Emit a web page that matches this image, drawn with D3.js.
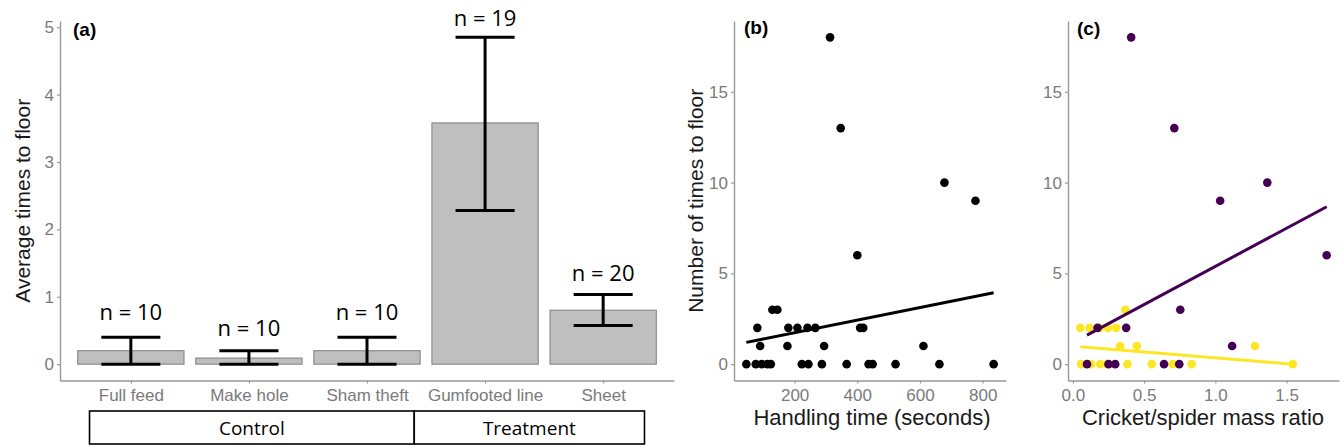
<!DOCTYPE html>
<html>
<head>
<meta charset="utf-8">
<script src="https://cdn.jsdelivr.net/npm/d3@7"></script>
<style>
  body { margin: 0; background: #fff; }
  svg { display: block; }
  .tick text { font-family: Arial, "Liberation Sans", sans-serif; font-size: 17px; fill: #7a7a7a; }
  .tick line { stroke: #999; stroke-width: 1.2; }
  .domain { stroke: #999; stroke-width: 1.4; }
  .title { font-family: Arial, "Liberation Sans", sans-serif; fill: #1a1a1a; }
  .tag { font-family: Arial, "Liberation Sans", sans-serif; font-weight: bold; font-size: 19px; fill: #000; }
</style>
</head>
<body>
<div class="vis"></div>
<script>
// panel (a): treatments
var categories = ["Full feed", "Make hole", "Sham theft", "Gumfooted line", "Sheet"];
var meanFloor = [0.2, 0.09, 0.2, 3.58, 0.8];
var lowerBar = [0, 0, 0, 2.28, 0.575];
var upperBar = [0.4, 0.2, 0.4, 4.85, 1.035];
var sampleSize = [10, 10, 10, 19, 20];
var nLabelY = [0.65, 0.42, 0.65, 5.02, 1.24];
var groupNames = ["Control", "Treatment"];
var groupFirst = ["Full feed", "Gumfooted line"];
var groupLast = ["Sham theft", "Sheet"];

// panel (b): handling time vs times to floor
var handlingTime = [313, 347, 678, 777, 400, 129, 145,
    81, 180, 209, 241, 266, 409, 419,
    90, 177, 294, 611,
    46, 76, 95, 113, 124, 223, 244, 287, 366, 436, 449, 522, 662, 835];
var floorsB = [18, 13, 10, 9, 6, 3, 3,
    2, 2, 2, 2, 2, 2, 2,
    1, 1, 1, 1,
    0, 0, 0, 0, 0, 0, 0, 0, 0, 0, 0, 0, 0, 0];
var fitB = { intercept: 1.04, slope: 0.00346 };

// panel (c): mass ratio, gumfooted (purple) and sheet (yellow)
var ratioGum = [0.409, 0.712, 1.365, 1.034, 1.782, 0.754, 0.173, 0.374, 1.118, 0.099, 0.250, 0.297, 0.640, 0.747];
var floorsGum = [18, 13, 10, 9, 6, 3, 2, 2, 1, 0, 0, 0, 0, 0];
var ratioSheet = [0.367, 0.052, 0.117, 0.187, 0.246, 0.304, 0.332, 0.449, 1.278,
    0.057, 0.127, 0.192, 0.243, 0.383, 0.554, 0.701, 0.834, 1.544];
var floorsSheet = [3, 2, 2, 2, 2, 2, 1, 1, 1, 0, 0, 0, 0, 0, 0, 0, 0, 0];
var fitGum = { intercept: 1.184, slope: 4.2 };
var fitSheet = { intercept: 0.993, slope: -0.643 };

var colGum = "#440154", colSheet = "#FDE725";

var W = 1341, H = 447;
var plotTop = 21, plotBottom = 380.5;
var dotR = 4.3;

var svg = d3.select(".vis").append("svg")
    .attr("width", W)
    .attr("height", H);

function expand(ext) {
    var pad = (ext[1] - ext[0]) * 0.05;
    return [ext[0] - pad, ext[1] + pad];
}

function styleAxis(g) {
    g.select(".domain").attr("stroke", "#999");
}

// ---------- panel (a) ----------
var xa = d3.scalePoint().domain(categories).range([60, 674]).padding(0.6);
var ya = d3.scaleLinear().domain(expand([0, d3.max(upperBar)])).range([plotBottom, plotTop]);
var step = xa.step();

var barData = categories.map(function (c, i) {
    return { cat: c, mean: meanFloor[i], lo: lowerBar[i], hi: upperBar[i], n: sampleSize[i], ly: nLabelY[i] };
});

svg.append("g")
    .attr("transform", "translate(60,0)")
    .call(d3.axisLeft(ya).tickValues([0, 1, 2, 3, 4, 5]).tickFormat(d3.format("d"))
        .tickSize(3).tickSizeOuter(0).tickPadding(3))
    .call(styleAxis);

svg.append("g")
    .attr("transform", "translate(0," + plotBottom + ")")
    .call(d3.axisBottom(xa).tickSize(3).tickSizeOuter(0).tickPadding(5))
    .call(styleAxis);

svg.selectAll(".bar")
    .data(barData)
    .enter()
    .append("rect")
    .attr("class", "bar")
    .attr("x", d => xa(d.cat) - step * 0.45)
    .attr("width", step * 0.9)
    .attr("y", d => ya(d.mean))
    .attr("height", d => ya(0) - ya(d.mean))
    .attr("fill", "#bfbfbf")
    .attr("stroke", "#8c8c8c")
    .attr("stroke-width", 1.2);

var err = svg.selectAll(".err")
    .data(barData)
    .enter()
    .append("g")
    .attr("class", "err")
    .attr("stroke", "#000")
    .attr("stroke-width", 3);

err.append("line")
    .attr("x1", d => xa(d.cat)).attr("x2", d => xa(d.cat))
    .attr("y1", d => ya(d.lo)).attr("y2", d => ya(d.hi));
err.append("line")
    .attr("x1", d => xa(d.cat) - step * 0.25).attr("x2", d => xa(d.cat) + step * 0.25)
    .attr("y1", d => ya(d.lo)).attr("y2", d => ya(d.lo));
err.append("line")
    .attr("x1", d => xa(d.cat) - step * 0.25).attr("x2", d => xa(d.cat) + step * 0.25)
    .attr("y1", d => ya(d.hi)).attr("y2", d => ya(d.hi));

svg.selectAll(".nlab")
    .data(barData)
    .enter()
    .append("text")
    .attr("class", "nlab")
    .attr("x", d => xa(d.cat))
    .attr("y", d => ya(d.ly))
    .attr("text-anchor", "middle")
    .style("font-family", "'Open Sans', 'Noto Sans', sans-serif")
    .style("font-size", "22px")
    .text(d => "n = " + d.n);

// group boxes under the axis
groupNames.forEach(function (name, i) {
    var x0 = i === 0 ? xa(groupFirst[i]) - step * 0.35 : xa(groupLast[0]) + step * 0.4;
    var x1 = i === 0 ? xa(groupLast[i]) + step * 0.4 : xa(groupLast[i]) + step * 0.35;
    svg.append("rect")
        .attr("x", x0).attr("y", 411)
        .attr("width", x1 - x0).attr("height", 33)
        .attr("fill", "none")
        .attr("stroke", "#000")
        .attr("stroke-width", 1.6);
    svg.append("text")
        .attr("x", (x0 + x1) / 2).attr("y", 428)
        .attr("text-anchor", "middle")
        .attr("dominant-baseline", "central")
        .style("font-family", "'Open Sans', 'Noto Sans', sans-serif")
        .style("font-size", "19px")
        .text(name);
});

svg.append("text")
    .attr("class", "title")
    .attr("transform", "translate(22," + (plotTop + plotBottom) / 2 + ") rotate(-90)")
    .attr("text-anchor", "middle")
    .attr("dominant-baseline", "central")
    .style("font-size", "21px")
    .text("Average times to floor");

svg.append("text").attr("class", "tag").attr("x", 73).attr("y", 36).text("(a)");

// ---------- panel (b) ----------
var xb = d3.scaleLinear().domain(expand(d3.extent(handlingTime))).range([734, 1006]);
var yb = d3.scaleLinear().domain(expand([0, d3.max(floorsB)])).range([plotBottom, plotTop]);

svg.append("g")
    .attr("transform", "translate(734,0)")
    .call(d3.axisLeft(yb).tickValues([0, 5, 10, 15]).tickSize(3).tickSizeOuter(0).tickPadding(3))
    .call(styleAxis);
svg.append("g")
    .attr("transform", "translate(0," + plotBottom + ")")
    .call(d3.axisBottom(xb).tickValues([200, 400, 600, 800]).tickSize(3).tickSizeOuter(0).tickPadding(5))
    .call(styleAxis);

var ptsB = handlingTime.map((t, i) => ({ x: t, y: floorsB[i] }));
svg.selectAll(".ptb")
    .data(ptsB)
    .enter()
    .append("circle")
    .attr("class", "ptb")
    .attr("cx", d => xb(d.x))
    .attr("cy", d => yb(d.y))
    .attr("r", dotR)
    .attr("fill", "#000");

var extB = d3.extent(handlingTime);
svg.append("path")
    .datum(extB.map(x => ({ x: x, y: fitB.intercept + fitB.slope * x })))
    .attr("d", d3.line().x(d => xb(d.x)).y(d => yb(d.y)))
    .attr("stroke", "#000")
    .attr("stroke-width", 3)
    .attr("fill", "none");

svg.append("text")
    .attr("class", "title")
    .attr("transform", "translate(695," + (plotTop + plotBottom) / 2 + ") rotate(-90)")
    .attr("text-anchor", "middle")
    .attr("dominant-baseline", "central")
    .style("font-size", "21px")
    .text("Number of times to floor");
svg.append("text")
    .attr("class", "title")
    .attr("x", 872).attr("y", 417)
    .attr("text-anchor", "middle")
    .attr("dominant-baseline", "central")
    .style("font-size", "22px")
    .text("Handling time (seconds)");

svg.append("text").attr("class", "tag").attr("x", 744).attr("y", 34).text("(b)");

// ---------- panel (c) ----------
var xc = d3.scaleLinear().domain(expand(d3.extent(ratioGum.concat(ratioSheet)))).range([1068, 1339]);
var yc = d3.scaleLinear().domain(expand([0, d3.max(floorsGum.concat(floorsSheet))])).range([plotBottom, plotTop]);

svg.append("g")
    .attr("transform", "translate(1068,0)")
    .call(d3.axisLeft(yc).tickValues([0, 5, 10, 15]).tickSize(3).tickSizeOuter(0).tickPadding(3))
    .call(styleAxis);
svg.append("g")
    .attr("transform", "translate(0," + plotBottom + ")")
    .call(d3.axisBottom(xc).tickValues([0, 0.5, 1, 1.5]).tickFormat(d3.format(".1f")).tickSize(3).tickSizeOuter(0).tickPadding(5))
    .call(styleAxis);

var ptsSheet = ratioSheet.map((r, i) => ({ x: r, y: floorsSheet[i] }));
var ptsGum = ratioGum.map((r, i) => ({ x: r, y: floorsGum[i] }));

svg.selectAll(".pts")
    .data(ptsSheet)
    .enter()
    .append("circle")
    .attr("class", "pts")
    .attr("cx", d => xc(d.x))
    .attr("cy", d => yc(d.y))
    .attr("r", dotR)
    .attr("fill", colSheet);

svg.selectAll(".ptg")
    .data(ptsGum)
    .enter()
    .append("circle")
    .attr("class", "ptg")
    .attr("cx", d => xc(d.x))
    .attr("cy", d => yc(d.y))
    .attr("r", dotR)
    .attr("fill", colGum);

[[ratioGum, fitGum, colGum], [ratioSheet, fitSheet, colSheet]].forEach(function (s) {
    var ext = d3.extent(s[0]);
    svg.append("path")
        .datum(ext.map(x => ({ x: x, y: s[1].intercept + s[1].slope * x })))
        .attr("d", d3.line().x(d => xc(d.x)).y(d => yc(d.y)))
        .attr("stroke", s[2])
        .attr("stroke-width", 3)
        .attr("fill", "none");
});

svg.append("text")
    .attr("class", "title")
    .attr("x", 1203).attr("y", 417)
    .attr("text-anchor", "middle")
    .attr("dominant-baseline", "central")
    .style("font-size", "22px")
    .text("Cricket/spider mass ratio");

svg.append("text").attr("class", "tag").attr("x", 1077).attr("y", 35).text("(c)");
</script>
</body>
</html>
